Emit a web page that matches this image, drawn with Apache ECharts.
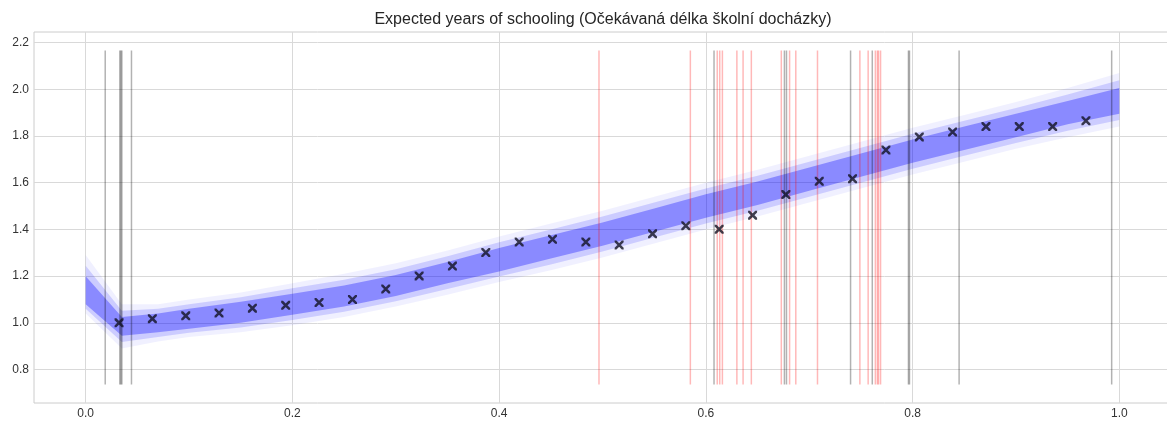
<!DOCTYPE html>
<html><head><meta charset="utf-8">
<script src="https://cdn.jsdelivr.net/npm/echarts@6/dist/echarts.min.js"></script>
<style>html,body{margin:0;padding:0;background:#fff}#c{width:1167px;height:422px}</style>
</head><body><div id="c"></div>
<script>
const titleText = 'Expected years of schooling (Očekávaná délka školní docházky)';
const xTicks = [0.0, 0.2, 0.4, 0.6, 0.8, 1.0];
const yTicks = [0.8, 1.0, 1.2, 1.4, 1.6, 1.8, 2.0, 2.2];
const xMin = -0.05, xMax = 1.05;
const yMin = 0.657, yMax = 2.245;

// observed points (black crosses)
const markerX = [0.0323,0.0645,0.0968,0.1290,0.1613,0.1935,0.2258,0.2581,0.2903,0.3226,
                 0.3548,0.3871,0.4194,0.4516,0.4839,0.5161,0.5484,0.5806,0.6129,0.6452,
                 0.6774,0.7097,0.7419,0.7742,0.8065,0.8387,0.8710,0.9032,0.9355,0.9677];
const markerY = [1.000,1.018,1.030,1.042,1.063,1.075,1.087,1.100,1.145,1.201,
                 1.243,1.301,1.346,1.358,1.346,1.333,1.381,1.416,1.401,1.461,
                 1.549,1.606,1.617,1.740,1.796,1.817,1.840,1.840,1.840,1.865];

// posterior band: faint outer, middle and dense core envelopes
const bandX     = [0, 0.035, 0.07, 0.1, 0.15, 0.2, 0.25, 0.3, 0.35, 0.4, 0.45, 0.5, 0.55, 0.6, 0.65, 0.7, 0.75, 0.8, 0.85, 0.9, 0.95, 1.0];
const outerLow  = [1.04, 0.89, 0.92, 0.94, 0.96, 0.99, 1.025, 1.07, 1.12, 1.175, 1.225, 1.28, 1.34, 1.40, 1.455, 1.515, 1.575, 1.635, 1.69, 1.745, 1.795, 1.84];
const outerHigh = [1.29, 1.08, 1.08, 1.10, 1.13, 1.17, 1.21, 1.255, 1.31, 1.37, 1.425, 1.48, 1.54, 1.60, 1.655, 1.715, 1.775, 1.835, 1.89, 1.945, 2.005, 2.07];
const midLow    = [1.06, 0.918, 0.94, 0.958, 0.98, 1.012, 1.048, 1.092, 1.145, 1.198, 1.25, 1.305, 1.365, 1.425, 1.48, 1.54, 1.60, 1.66, 1.715, 1.77, 1.822, 1.868];
const midHigh   = [1.245, 1.052, 1.06, 1.08, 1.11, 1.148, 1.185, 1.23, 1.285, 1.345, 1.40, 1.455, 1.515, 1.575, 1.63, 1.69, 1.75, 1.81, 1.865, 1.92, 1.978, 2.038];
const coreLow   = [1.08, 0.945, 0.96, 0.975, 1.0, 1.035, 1.07, 1.115, 1.17, 1.22, 1.275, 1.33, 1.39, 1.45, 1.505, 1.565, 1.625, 1.685, 1.74, 1.795, 1.85, 1.895];
const coreHigh  = [1.20, 1.025, 1.04, 1.06, 1.09, 1.125, 1.16, 1.205, 1.26, 1.32, 1.375, 1.43, 1.49, 1.55, 1.605, 1.665, 1.725, 1.785, 1.84, 1.895, 1.95, 2.005];

// vertical reference lines
const redLines  = [0.4966, 0.585, 0.611, 0.6134, 0.616, 0.630, 0.636, 0.644, 0.673, 0.681, 0.687, 0.708, 0.749, 0.757, 0.764, 0.766, 0.767, 0.769];
const grayLines = [0.0189, 0.033, 0.034, 0.035, 0.0443, 0.6079, 0.676, 0.678, 0.740, 0.761, 0.796, 0.797, 0.845, 0.9926];

const lineY0 = yMin + 0.05 * (yMax - yMin);
const lineY1 = yMin + 0.95 * (yMax - yMin);

const chart = echarts.init(document.getElementById('c'), null, {renderer: 'canvas'});

function bandSeries(low, high, color) {
  return {
    type: 'custom', silent: true, z: 1, animation: false, clip: true,
    data: bandX.map((x, i) => [x, low[i], high[i]]),
    encode: {x: 0, y: [1, 2]},
    renderItem: (params, api) => {
      if (params.dataIndex !== 0) return null;
      const top = bandX.map((x, i) => api.coord([x, high[i]]));
      const bot = bandX.map((x, i) => api.coord([x, low[i]])).reverse();
      return {type: 'polygon', shape: {points: top.concat(bot)}, style: {fill: color}};
    }
  };
}

function vlineSeries(xs, color) {
  return {
    type: 'custom', silent: true, z: 3, animation: false,
    data: xs.map(x => [x, lineY0, lineY1]),
    encode: {x: 0, y: [1, 2]},
    renderItem: (params, api) => {
      const p0 = api.coord([api.value(0), api.value(1)]);
      const p1 = api.coord([api.value(0), api.value(2)]);
      return {type: 'line', shape: {x1: p0[0], y1: p0[1], x2: p1[0], y2: p1[1]},
              style: {stroke: color, lineWidth: 1.5}};
    }
  };
}

const crossPath = 'path://M0,0L2,0L10,8L10,10L8,10L0,2ZM8,0L10,0L10,2L2,10L0,10L0,8Z';
const font = 'Liberation Sans, Arial, sans-serif';

chart.setOption({
  animation: false,
  backgroundColor: '#ffffff',
  title: {text: titleText, left: 598, top: 7, textAlign: 'center',
          textStyle: {fontFamily: font, fontSize: 16, fontWeight: 'normal', color: '#262626'}},
  grid: {left: 34, top: 32, width: 1137, height: 371, show: true, borderColor: '#cccccc', borderWidth: 1,
         containLabel: false, outerBoundsMode: 'none'},
  xAxis: {type: 'value', min: xMin, max: xMax,
          axisLine: {show: false}, axisTick: {show: false, customValues: xTicks},
          axisLabel: {customValues: xTicks, formatter: v => v.toFixed(1), color: '#333333',
                      fontFamily: font, fontSize: 12, margin: 5},
          splitLine: {show: true, lineStyle: {color: '#d9d9d9', width: 1}}},
  yAxis: {type: 'value', min: yMin, max: yMax,
          axisLine: {show: false}, axisTick: {show: false, customValues: yTicks},
          axisLabel: {customValues: yTicks, formatter: v => v.toFixed(1), color: '#333333',
                      fontFamily: font, fontSize: 12, margin: 5},
          splitLine: {show: true, lineStyle: {color: '#d9d9d9', width: 1}}},
  series: [
    bandSeries(outerLow, outerHigh, 'rgba(0,0,255,0.06)'),
    bandSeries(midLow, midHigh, 'rgba(0,0,255,0.15)'),
    bandSeries(coreLow, coreHigh, 'rgba(0,0,255,0.32)'),
    vlineSeries(grayLines, 'rgba(0,0,0,0.3)'),
    vlineSeries(redLines, 'rgba(255,0,0,0.28)'),
    {type: 'scatter', data: markerX.map((x, i) => [x, markerY[i]]), symbol: crossPath, symbolSize: 9,
     itemStyle: {color: '#111122'}, z: 5, silent: true}
  ]
});
</script></body></html>
